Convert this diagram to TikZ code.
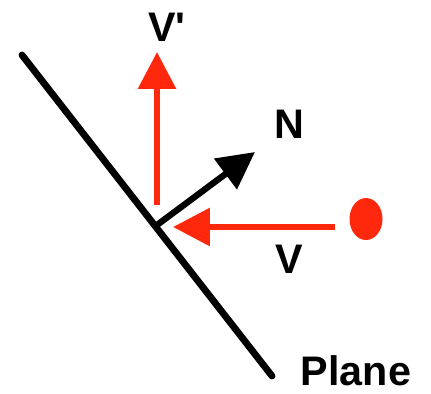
\documentclass[tikz,border=0pt]{standalone}
\usepackage{fontspec}
\setmainfont{Liberation Sans}
\usetikzlibrary{arrows.meta,positioning,shapes.geometric}
\definecolor{RayColor}{RGB}{255,40,12}

\begin{document}
\begin{tikzpicture}[x=0.02cm, y=-0.02cm, >={Triangle[length=21pt, width=21pt]}, font=\fontsize{23.5}{26}\selectfont\bfseries]
  \useasboundingbox (0,0) rectangle (431,393);
  % plane and contact point
  \coordinate (ptop) at (22,55);
  \coordinate (pbottom) at (272,376);
  \coordinate (hit) at (157,225);
  \draw[line width=3.9pt, line cap=round] (ptop)--(pbottom);
  % incoming ray and ball
  \node[ellipse, fill=RayColor, inner sep=0pt, minimum width=0.66cm, minimum height=0.84cm] (ball) at (366,219) {};
  \coordinate (vtip) at (173,227);
  \draw[->, line width=3.6pt, RayColor, shorten <=8pt] (ball.west |- vtip)--(vtip);
  % reflected ray
  \coordinate (vpbase) at (157,205);
  \coordinate (vptip) at (157,52);
  \draw[->, line width=3.6pt, RayColor] (vpbase)--(vptip);
  % normal
  \coordinate (ntip) at (255,152);
  \draw[->, line width=3.6pt] (hit)--(ntip);
  % labels
  \node (vplabel) at (167,27) {V\textquotesingle};
  \node (nlabel) at (289,124) {N};
  \node (vlabel) at (289,259) {V};
  \node (planelabel) at (356,371) {Plane};
\end{tikzpicture}
\end{document}
